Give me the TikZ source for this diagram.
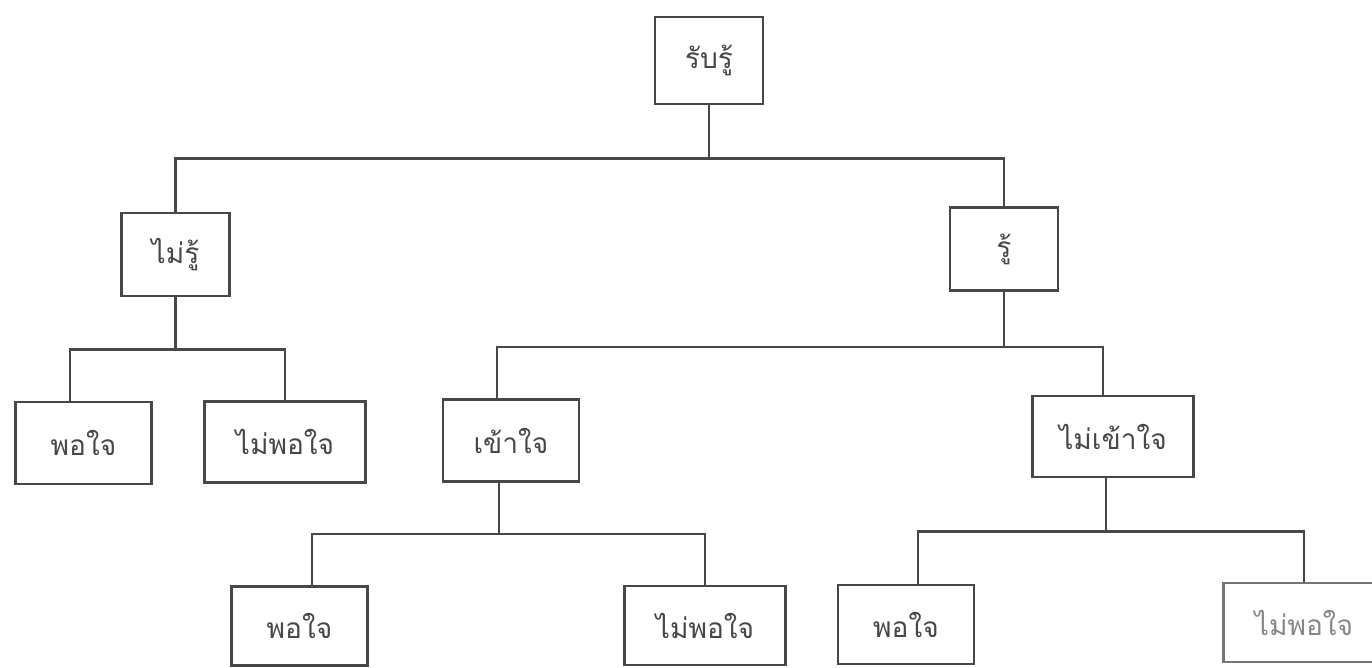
\documentclass[tikz,border=0pt]{standalone}
\usepackage{fontspec}
\newfontfamily\thaifont[Script=Thai]{Loma}
\definecolor{ink}{HTML}{474747}
\begin{document}
\begin{tikzpicture}[
        x=0.02cm, y=-0.02cm,
        every node/.style={draw=ink, line width=1.5pt, text=ink, inner sep=0pt, text centered,
            font=\thaifont\fontsize{16}{18}\selectfont},
        small/.style={minimum width=2.16cm, minimum height=1.66cm},
        mid/.style={minimum width=2.72cm, minimum height=1.64cm},
        wide/.style={minimum width=3.22cm, minimum height=1.62cm},
        low/.style={minimum height=1.58cm},
        ln/.style={draw=ink, line width=1.5pt},
    ]
    \useasboundingbox (0,0) rectangle (1372,667);

    \node[small, minimum height=1.74cm](root) at (709,60.5) {รับรู้};
    \node[small](no) at (175.5,254.5) {ไม่รู้};
    \node[small](yes) at (1004,249) {รู้};
    \node[mid](no1) at (83.5,443) {พอใจ};
    \node[wide](no2) at (285,442) {ไม่พอใจ};
    \node[mid](und) at (511,440.5) {เข้าใจ};
    \node[wide](nund) at (1113,436.5) {ไม่เข้าใจ};
    \node[mid, low](und1) at (299.5,626) {พอใจ};
    \node[wide, low](und2) at (705,625.5) {ไม่พอใจ};
    \node[mid, low](nund1) at (906,624.5) {พอใจ};
    \node[wide, low, draw=ink!75, text=ink!65](nund2) at (1304,622.5) {ไม่พอใจ};

    % first split
    \draw[ln] (root.south) -- ++(0,53) coordinate (b0);
    \draw[ln] (no.north) |- (b0) -| (yes.north);

    % under ไม่รู้
    \draw[ln] (no.south) -- ++(0,52) coordinate (b1);
    \draw[ln] ([xshift=-0.27cm]no1.north) |- (b1) -| (no2.north);

    % under รู้
    \draw[ln] (yes.south) -- ++(0,55) coordinate (b2);
    \draw[ln] ([xshift=-0.28cm]und.north) |- (b2) -| ([xshift=-0.2cm]nund.north);

    \draw[ln] ([xshift=-0.24cm]und.south) -- ++(0,51) coordinate (b3);
    \draw[ln] ([xshift=0.25cm]und1.north) |- (b3) -| (und2.north);

    \draw[ln] ([xshift=-0.14cm]nund.south) -- ++(0,53) coordinate (b4);
    \draw[ln] ([xshift=0.24cm]nund1.north) |- (b4) -| (nund2.north);
\end{tikzpicture}
\end{document}
